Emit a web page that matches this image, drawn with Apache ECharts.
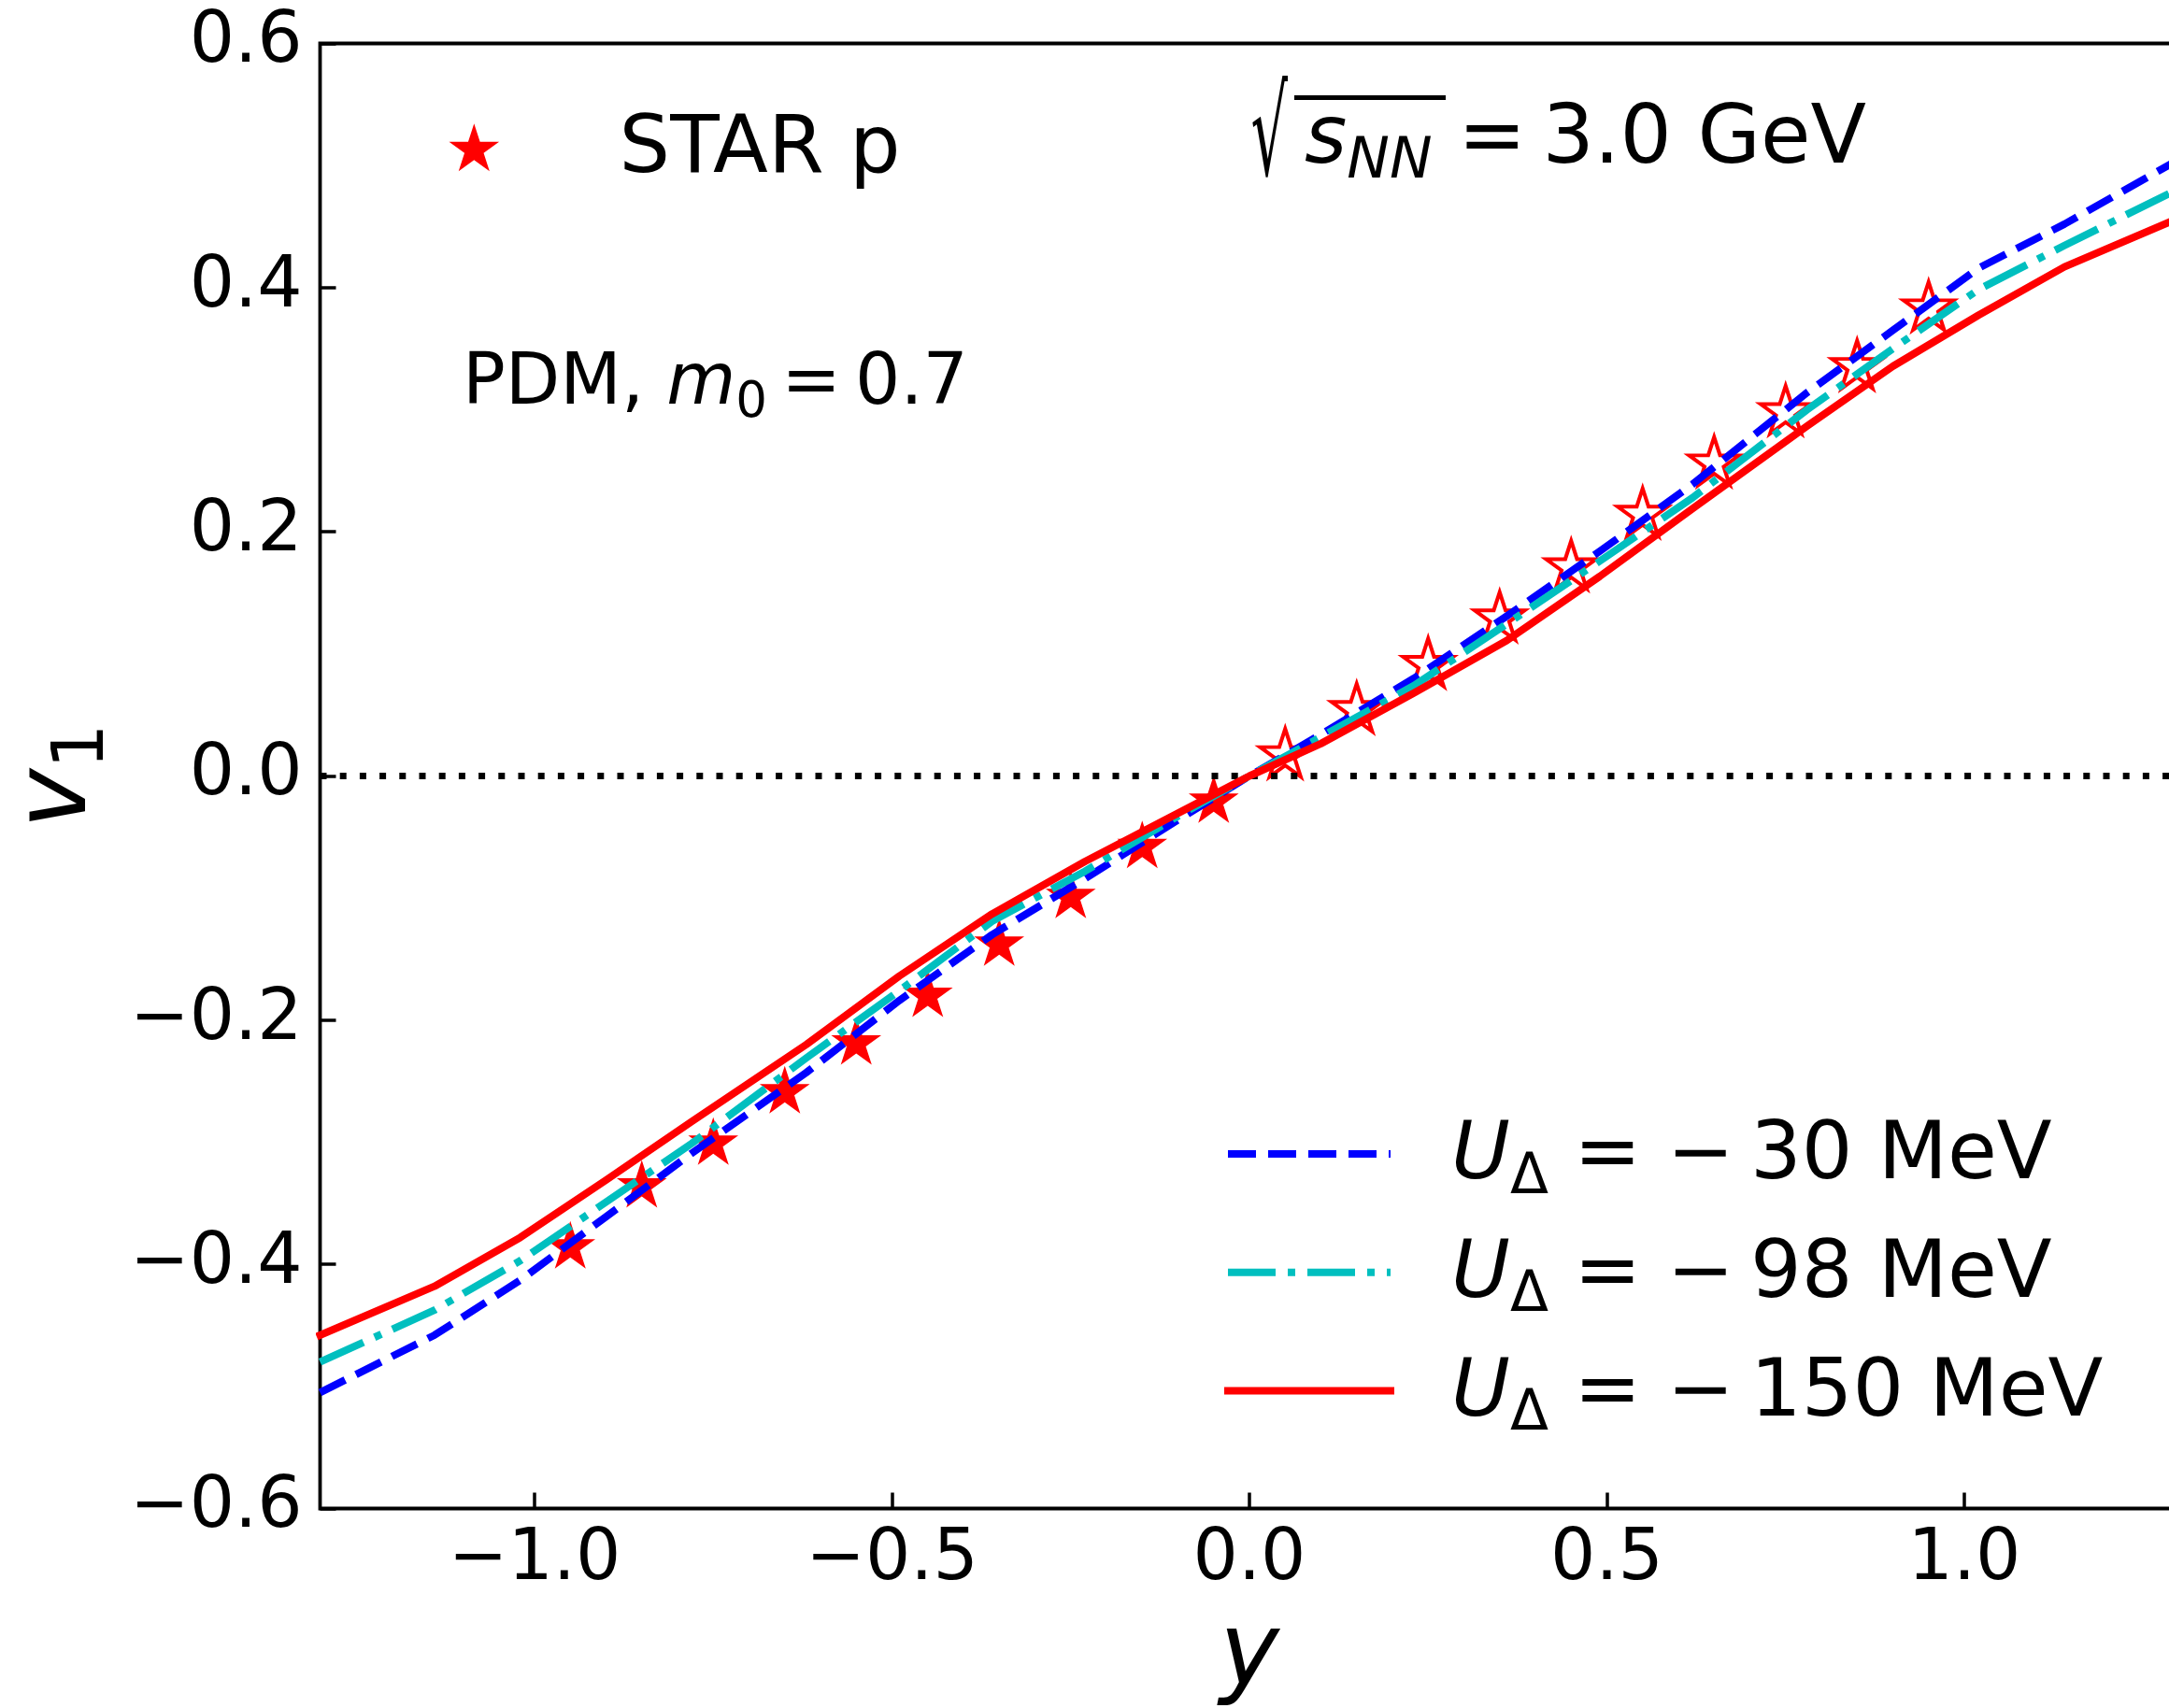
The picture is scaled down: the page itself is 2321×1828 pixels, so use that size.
<!DOCTYPE html>
<html>
<head>
<meta charset="utf-8">
<script src="https://cdn.jsdelivr.net/npm/echarts@6/dist/echarts.min.js"></script>
<style>
  html, body { margin: 0; padding: 0; background: #fff; }
  #chart { width: 2321px; height: 1828px; }
</style>
</head>
<body>
<div id="chart"></div>
<script>
// Rapidity points of the model curves
const Y_MODEL = [-1.30, -1.14, -1.02, -0.90, -0.78, -0.62, -0.49, -0.36, -0.23, -0.10, 0.00,
                  0.10, 0.23, 0.36, 0.49, 0.62, 0.78, 0.90, 1.02, 1.14, 1.30];
// Directed flow v1(y) for three Delta potentials
const V1_U30  = [-0.505, -0.458, -0.413, -0.361, -0.309, -0.243, -0.184, -0.130, -0.084, -0.036, 0.000,
                  0.034, 0.080, 0.131, 0.184, 0.239, 0.314, 0.365, 0.416, 0.452, 0.505];
const V1_U98  = [-0.480, -0.4375, -0.397, -0.349, -0.301, -0.231, -0.176, -0.119, -0.078, -0.033, 0.000,
                  0.032, 0.074, 0.1245, 0.176, 0.228, 0.300, 0.350, 0.3985, 0.4345, 0.481];
const V1_U150 = [-0.458, -0.418, -0.378, -0.331, -0.283, -0.220, -0.164, -0.113, -0.070, -0.0305, 0.000,
                  0.0265, 0.068, 0.111, 0.1635, 0.219, 0.2866, 0.3356, 0.3775, 0.417, 0.457];
const U_DELTA = [-30, -98, -150];

// STAR protons: measured (y < 0) and reflected (y > 0)
const Y_STAR_NEG  = [-0.95, -0.85, -0.75, -0.65, -0.55, -0.45, -0.35, -0.25, -0.15, -0.05];
const V1_STAR_NEG = [-0.384, -0.334, -0.299, -0.257, -0.217, -0.178, -0.136, -0.097, -0.056, -0.019];
const Y_STAR_POS  = [0.05, 0.15, 0.25, 0.35, 0.45, 0.55, 0.65, 0.75, 0.85, 0.95];
const V1_STAR_POS = [0.019, 0.056, 0.093, 0.131, 0.173, 0.216, 0.258, 0.300, 0.337, 0.385];

const X_TICKS = [-1.0, -0.5, 0.0, 0.5, 1.0];
const X_RANGE = [-1.3, 1.3];
const Y_RANGE = [-0.6, 0.6];

const FONT = 'DejaVu Sans';
const STAR_PATH = 'path://M0,-100L22.45,-30.9L95.11,-30.9L36.33,11.8L58.78,80.9L0,38.2L-58.78,80.9L-36.33,11.8L-95.11,-30.9L-22.45,-30.9Z';

const zip = (xs, ys) => xs.map((x, i) => [x, ys[i]]);
const fmt = v => {
  const a = Math.abs(v) < 1e-9 ? 0 : v;
  return (a < 0 ? '\u2212' : '') + Math.abs(a).toFixed(1);
};
const modelName = u => 'U_Delta = ' + u + ' MeV';

const MODEL_STYLES = [
  { color: '#0000ff', type: [30, 13], cap: 'butt' },
  { color: '#00bfbf', type: [51, 13, 8, 13], cap: 'butt' },
  { color: '#ff0000', type: 'solid', cap: 'square' }
];
const MODEL_VALUES = [V1_U30, V1_U98, V1_U150];

const chart = echarts.init(document.getElementById('chart'), null, { renderer: 'canvas' });

const series = [
  {
    name: 'STAR p', type: 'scatter', z: 2, silent: true,
    symbol: STAR_PATH, symbolSize: [53.6, 51],
    itemStyle: { color: '#ff0000', opacity: 1 },
    data: zip(Y_STAR_NEG, V1_STAR_NEG)
  },
  {
    name: 'STAR p reflected', type: 'scatter', z: 2, silent: true,
    symbol: STAR_PATH, symbolSize: [53.6, 51],
    itemStyle: { color: '#ffffff', borderColor: '#ff0000', borderWidth: 4, opacity: 1 },
    data: zip(Y_STAR_POS, V1_STAR_POS)
  },
  {
    name: 'zero', type: 'line', z: 3, silent: true, symbol: 'none',
    lineStyle: { color: '#000', width: 7, type: [7, 14.2], cap: 'butt' },
    data: [[X_RANGE[0], 0], [X_RANGE[1], 0]]
  }
];
U_DELTA.forEach((u, i) => {
  const s = MODEL_STYLES[i];
  series.push({
    name: modelName(u), type: 'line', z: 4, silent: true, symbol: 'none', showSymbol: false,
    lineStyle: { color: s.color, width: 8, type: s.type, cap: s.cap, join: 'round' },
    itemStyle: { color: s.color },
    data: zip(Y_MODEL, MODEL_VALUES[i])
  });
});

const legendRich = {
  gap: { width: 60, lineHeight: 120 },
  u: { fontFamily: FONT, fontStyle: 'italic', fontSize: 86, lineHeight: 120, padding: [8, 0, 0, 0], color: '#000' },
  d: { fontFamily: FONT, fontSize: 60, lineHeight: 120, padding: [52, 0, 0, 0], color: '#000' },
  t: { fontFamily: FONT, fontSize: 86, lineHeight: 120, padding: [8, 0, 0, 0], color: '#000' }
};

const option = {
  animation: false,
  backgroundColor: '#ffffff',
  textStyle: { fontFamily: FONT, color: '#000' },
  grid: {
    left: 342.5, top: 46.5, width: 1989, height: 1568,
    show: true, borderColor: '#000', borderWidth: 3.8, backgroundColor: 'transparent',
    outerBoundsMode: 'none', containLabel: false
  },
  xAxis: {
    type: 'value', min: X_RANGE[0], max: X_RANGE[1],
    axisLine: { show: false, onZero: false },
    axisTick: { show: true, inside: true, length: 17, customValues: X_TICKS,
                lineStyle: { color: '#000', width: 3.5 } },
    axisLabel: { customValues: X_TICKS, formatter: fmt, fontFamily: FONT, fontSize: 76,
                 color: '#000', margin: 17.5 },
    splitLine: { show: false },
    name: 'y', nameLocation: 'middle', nameGap: 106,
    nameTextStyle: { fontFamily: FONT, fontStyle: 'italic', fontSize: 108, color: '#000' }
  },
  yAxis: {
    type: 'value', min: Y_RANGE[0], max: Y_RANGE[1], interval: 0.2,
    axisLine: { show: false, onZero: false },
    axisTick: { show: true, inside: true, length: 17, lineStyle: { color: '#000', width: 3.5 } },
    axisLabel: { formatter: fmt, fontFamily: FONT, fontSize: 76, color: '#000', margin: 19,
                 padding: [8, 0, 0, 0] },
    splitLine: { show: false },
    name: '{v|v}{s|1}', nameLocation: 'middle', nameGap: 209,
    nameTextStyle: {
      color: '#000',
      rich: {
        v: { fontFamily: FONT, fontStyle: 'italic', fontSize: 108, lineHeight: 130, color: '#000' },
        s: { fontFamily: FONT, fontSize: 76, lineHeight: 130, padding: [54, 0, 0, 0], color: '#000' }
      }
    }
  },
  legend: [
    {
      data: ['STAR p'], left: 480.5, top: 97.8, orient: 'vertical', padding: 0,
      itemWidth: 53.6, itemHeight: 51, icon: STAR_PATH, selectedMode: false,
      formatter: name => '{gap| }{t|' + name + '}',
      textStyle: { fontFamily: FONT, fontSize: 86, color: '#000', lineHeight: 120,
                   rich: {
                     gap: { width: 123.5, lineHeight: 120 },
                     t: { fontFamily: FONT, fontSize: 86, lineHeight: 120, padding: [8, 0, 0, 0], color: '#000' }
                   } }
    },
    {
      data: U_DELTA.map(modelName), left: 1310, top: 1175, orient: 'vertical', padding: 0,
      itemGap: 6.7, itemWidth: 174, itemHeight: 8, selectedMode: false,
      itemStyle: { opacity: 0 },
      lineStyle: { width: 8 },
      formatter: name => {
        const u = U_DELTA[U_DELTA.map(modelName).indexOf(name)];
        return '{gap| }{u|U}{d|\u0394}{t| = \u2212\u2009' + Math.abs(u) + ' MeV}';
      },
      textStyle: { fontFamily: FONT, fontSize: 86, color: '#000', lineHeight: 120, rich: legendRich }
    }
  ],
  graphic: [
    {
      type: 'text', x: 1338.4, y: 152.7, scaleX: 0.776, scaleY: 1.636, silent: true,
      style: { text: '\u221A', fontFamily: FONT, fontSize: 80, fill: '#000',
               textAlign: 'left', align: 'left', textVerticalAlign: 'middle', verticalAlign: 'middle' }
    },
    {
      type: 'line', silent: true,
      shape: { x1: 1385, y1: 104.5, x2: 1547, y2: 104.5 },
      style: { stroke: '#000', lineWidth: 5 }
    },
    {
      type: 'text', x: 1396, y: 151.2, silent: true,
      style: {
        text: '{s|s}{n|NN}{t| =\u20093.0 GeV}',
        textAlign: 'left', align: 'left', textVerticalAlign: 'middle', verticalAlign: 'middle',
        fill: '#000',
        rich: {
          s: { fontFamily: FONT, fontStyle: 'italic', fontSize: 87, lineHeight: 110, fill: '#000' },
          n: { fontFamily: FONT, fontStyle: 'italic', fontSize: 61, lineHeight: 110, padding: [46, 0, 0, 0], fill: '#000' },
          t: { fontFamily: FONT, fontSize: 87, lineHeight: 110, fill: '#000' }
        }
      }
    },
    {
      type: 'text', x: 495, y: 412.4, silent: true,
      style: {
        text: '{t|PDM, }{m|m}{z|0}{t|\u2009=\u20090.7}',
        textAlign: 'left', align: 'left', textVerticalAlign: 'middle', verticalAlign: 'middle',
        fill: '#000',
        rich: {
          t: { fontFamily: FONT, fontSize: 76, lineHeight: 100, fill: '#000' },
          m: { fontFamily: FONT, fontStyle: 'italic', fontSize: 76, lineHeight: 100, fill: '#000' },
          z: { fontFamily: FONT, fontSize: 53, lineHeight: 100, padding: [39, 0, 0, 0], fill: '#000' }
        }
      }
    }
  ],
  series: series
};

chart.setOption(option);
</script>
</body>
</html>
